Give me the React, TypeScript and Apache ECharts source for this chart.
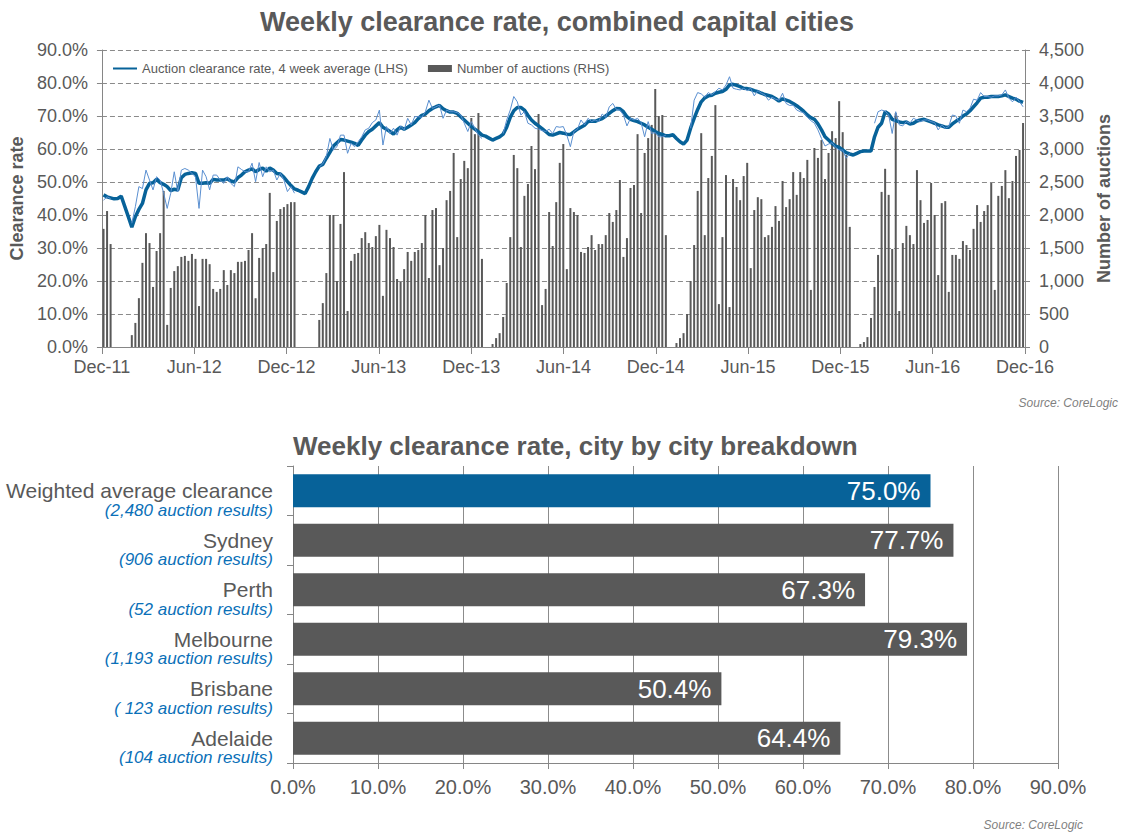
import React, { useEffect, useRef } from "react";
import * as echarts from "echarts";

// ---------- Top chart data (weekly, 261 weeks from Dec-11 to Dec-16) ----------
const xTickLabels = ["Dec-11", "Jun-12", "Dec-12", "Jun-13", "Dec-13", "Jun-14", "Dec-14", "Jun-15", "Dec-15", "Jun-16", "Dec-16"];
const WEEKS_TOTAL = 261;

// Number of auctions (RHS); null = no auctions reported (holiday break)
const auctions: (number | null)[] = [
  1790, 2060, 1560, null, null, null, null, null, 180, 365,
  740, 1275, 1725, 1575, 910, 1455, 1725, 2365, 335, 895,
  1150, 1225, 1365, 1380, 1305, 1410, 1335, 620, 1335, 1335,
  1255, 880, 835, 880, 1165, 940, 1165, 1120, 1290, 1290,
  1305, 1470, 1725, 740, 1350, 1500, 1560, 2335, 1135, 1910,
  2090, 2120, 2165, 2195, 2195, null, null, null, null, null,
  null, 410, 665, 1120, 2000, 2000, 1000, 1865, 2650, 545,
  1305, 1410, 1425, 1650, 1740, 1575, 1515, 1680, 1850, 775,
  1775, 1650, 1515, 1030, 985, 1180, 1440, 1305, 1440, 1470,
  1575, 2000, 1045, 2075, 2105, 1240, 1500, 2225, 2365, 2940,
  1665, 2545, 2820, 2710, 3470, 3225, 3545, 1335, null, null,
  45, 135, 210, 455, 970, 1665, 2910, 2710, 1515, 2290,
  2470, 3045, 2695, 3530, 635, 880, 2045, 1530, 2195, 2790,
  3075, 1180, 2105, 2045, 2000, 1440, 1425, 1515, 1695, 1470,
  1560, 1560, 1695, 2030, 1895, 2075, 2530, 1365, 1650, 2410,
  2455, 3225, 2030, 2940, 3165, 3365, 3910, 3500, 3515, 1695,
  null, null, 60, 135, 210, 500, 1000, 1545, 2365, 3240,
  1695, 2560, 2895, 3665, 650, 1665, 2605, 605, 2545, 2425,
  2225, 2590, 2790, 1195, 2075, 2270, 2240, 1665, 1695, 1820,
  2135, 1910, 2515, 2120, 2240, 2650, 2305, 2650, 2560, 2835,
  865, 3015, 2865, 3135, 2545, 2940, 3270, 3165, 3725, 3255,
  2910, 1820, null, null, 45, 75, 150, 440, 910, 1395,
  2350, 2700, 2305, 1485, 3545, 545, 1575, 1835, 1695, 1560,
  2680, 2225, 1880, 1925, 2485, 2000, 1090, 2180, 2210, 835,
  1395, 1395, 1335, 1605, 1545, 1470, 1790, 2150, 1895, 2060,
  2150, 2485, 865, 2290, 2440, 2680, 2255, 2515, 2895, 2985,
  3395,
];

// Auction clearance rate, 4 week average (LHS, %)
const clearance4wk: number[] = [
  46.1, 45.5, 45.2, 44.9, 45.0, 45.7, 42.6, 39.5, 36.3, 39.5,
  41.7, 43.5, 47.6, 49.6, 49.8, 50.8, 49.8, 49.3, 48.6, 47.4,
  47.8, 47.6, 51.3, 52.3, 52.6, 52.8, 52.6, 49.6, 49.6, 49.8,
  49.6, 50.8, 50.6, 50.6, 50.6, 51.0, 50.3, 50.0, 51.3, 52.1,
  53.1, 53.6, 54.0, 53.1, 53.8, 54.2, 53.3, 54.2, 53.6, 52.6,
  52.4, 51.4, 50.1, 48.9, 47.9, 47.5, 47.0, 46.5, 48.6, 51.1,
  53.1, 54.8, 55.3, 57.2, 59.0, 60.9, 61.9, 62.9, 62.7, 62.4,
  62.1, 61.7, 61.1, 62.7, 64.2, 65.3, 66.0, 67.0, 68.0, 66.6,
  66.0, 65.3, 64.5, 65.8, 66.6, 66.0, 66.6, 67.3, 68.0, 69.2,
  70.2, 70.6, 71.6, 72.3, 72.8, 73.2, 72.2, 71.6, 71.2, 71.2,
  70.8, 69.8, 68.8, 67.8, 66.8, 66.0, 65.2, 64.2, 63.9, 63.3,
  62.7, 63.2, 63.7, 64.5, 66.6, 69.6, 71.6, 72.6, 72.6, 71.8,
  70.2, 68.8, 67.8, 67.0, 66.2, 65.3, 64.4, 64.2, 64.6, 65.0,
  64.8, 64.5, 64.4, 65.2, 66.0, 66.6, 67.2, 68.3, 68.5, 68.4,
  68.8, 69.2, 70.0, 70.8, 71.6, 72.3, 72.2, 71.3, 69.8, 69.0,
  68.6, 68.3, 67.8, 67.3, 66.6, 66.0, 65.3, 64.7, 64.4, 64.0,
  64.0, 64.3, 63.2, 62.2, 61.5, 62.7, 66.3, 69.3, 72.0, 74.3,
  75.5, 76.1, 76.3, 76.9, 77.2, 77.4, 78.1, 79.4, 79.6, 79.3,
  78.9, 78.4, 78.3, 78.1, 77.7, 77.4, 76.9, 76.5, 76.2, 75.9,
  75.3, 74.5, 75.2, 74.8, 74.4, 73.8, 73.1, 72.3, 71.4, 70.3,
  69.5, 69.0, 67.6, 65.8, 63.7, 62.7, 61.7, 60.9, 60.5, 59.7,
  58.9, 58.5, 58.2, 58.7, 59.2, 59.4, 59.4, 59.4, 63.7, 66.6,
  67.8, 71.3, 70.6, 69.0, 68.6, 68.2, 68.0, 68.2, 67.6, 67.8,
  68.5, 68.8, 69.0, 68.6, 68.2, 67.8, 67.3, 67.0, 66.6, 66.6,
  67.6, 68.4, 69.0, 70.0, 70.6, 71.6, 72.8, 74.0, 75.4, 75.7,
  75.7, 75.9, 75.9, 75.9, 76.1, 76.4, 75.9, 75.4, 75.1, 74.5,
  74.1,
];

// Weekly clearance rate (thin line, %); null = not reported
const clearanceWeekly: (number | null)[] = [
  44.5, 45.5, 45.0, null, null, null, null, null, 37.5, 42.5,
  48.6, 48.0, 53.6, 50.6, 47.6, 51.6, 50.6, 46.6, 42.0, 46.6,
  53.1, 47.0, 53.6, 54.1, 53.6, 52.6, 51.6, 42.0, 53.6, 51.6,
  47.6, 52.1, 52.1, 50.6, 49.6, 51.6, 49.6, 48.6, 54.6, 53.8,
  53.1, 53.1, 55.7, 50.1, 55.9, 51.6, 54.6, 53.1, 53.6, 50.6,
  52.6, 50.6, 47.1, 48.6, 46.6, null, null, null, null, null,
  null, 54.6, 55.5, 57.7, 63.2, 59.7, 60.7, 64.2, 64.2, 58.7,
  61.7, 60.7, 62.2, 63.7, 65.8, 66.3, 68.0, 68.8, 71.8, 61.2,
  66.8, 64.7, 66.3, 64.2, 67.0, 65.8, 69.3, 67.3, 69.8, 69.8,
  69.6, 71.3, 74.8, 72.3, 72.8, 73.3, 69.3, 71.8, 71.3, 71.3,
  71.0, 70.3, 67.8, 65.3, 68.3, 66.3, 64.2, 63.2, null, null,
  null, null, null, 64.7, 68.8, 71.8, 75.9, 74.3, 70.3, 71.3,
  67.8, 67.3, 66.3, 66.0, 65.6, 65.3, 66.0, 64.7, 66.8, 66.6,
  66.8, 64.2, 60.7, 65.3, 66.0, 68.8, 67.3, 69.3, 68.3, 68.8,
  68.3, 70.6, 69.6, 72.8, 73.8, 72.0, 71.8, 70.3, 67.0, 69.3,
  68.8, 69.3, 68.0, 63.7, 68.3, 64.7, 65.0, 63.7, 63.7, 64.2,
  null, null, null, null, null, null, 66.3, 74.8, 77.1, 76.7,
  75.7, 77.1, 76.4, 77.4, 78.4, 77.9, 79.4, 81.9, 78.4, 78.1,
  77.9, 78.4, 77.7, 78.4, 76.1, 77.7, 76.9, 76.4, 74.8, 75.7,
  75.1, 74.8, 76.9, 73.8, 73.2, 73.3, 71.8, 71.3, 71.0, 69.6,
  68.6, 67.8, 65.8, 63.2, 60.9, 61.5, 61.9, 60.5, 59.7, 59.7,
  57.2, 58.7, null, null, null, null, null, null, 67.8, 71.3,
  71.8, 71.5, 70.3, 64.7, 71.3, 67.3, 67.0, 68.3, 67.8, 69.3,
  68.8, 68.3, 68.8, 68.8, 68.3, 68.0, 65.8, 67.3, 66.3, 66.8,
  70.3, 70.0, 67.8, 71.8, 71.3, 72.3, 75.1, 74.8, 77.1, 75.9,
  75.9, 75.7, 76.1, 76.1, 76.4, 77.9, 75.4, 74.3, 75.7, 74.3,
  72.8,
];

// ---------- Bottom chart data ----------
const cities = ["Weighted average clearance", "Sydney", "Perth", "Melbourne", "Brisbane", "Adelaide"];
const cityResults = ["(2,480 auction results)", "(906 auction results)", "(52 auction results)", "(1,193 auction results)", "( 123 auction results)", "(104 auction results)"];
const cityRates = [75.0, 77.7, 67.3, 79.3, 50.4, 64.4];

const LINE_NAME = "Auction clearance rate, 4 week average (LHS)";
const BAR_NAME = "Number of auctions (RHS)";
const THIN_NAME = "Weekly clearance rate";

const TXT = "#595959";
const AX = "#868686";
const GRAY_BAR = "#595959";
const BLUE = "#076299";
const THIN_BLUE = "#5a8fd0";
const FONT = 'Arial, "Liberation Sans", sans-serif';

const xOf = (i: number) => ((i + 0.45) * (xTickLabels.length - 1)) / WEEKS_TOTAL;

export default function App() {
  const ref = useRef<HTMLDivElement>(null);

  useEffect(() => {
    document.body.style.margin = "0";
    if (!ref.current) return;
    const chart = echarts.init(ref.current, undefined, { renderer: "svg" });

    const barData = auctions
      .map((v, i) => (v == null ? null : [xOf(i), v]))
      .filter((d) => d !== null);
    const avgData = clearance4wk.map((v, i) => [xOf(i), v]);
    const weeklyData = clearanceWeekly.map((v, i) => [xOf(i), v == null ? "-" : v]);

    const option: any = {
      animation: false,
      textStyle: { fontFamily: FONT },
      legend: {
        left: 107,
        top: 57,
        itemGap: 20,
        itemWidth: 24,
        itemHeight: 7,
        textStyle: { fontSize: 13, color: TXT, fontFamily: FONT },
        data: [
          { name: LINE_NAME, itemStyle: { opacity: 0 } },
          { name: BAR_NAME, icon: "rect" },
        ],
      },
      grid: [
        { left: 98, top: 50, width: 927, height: 297 },
        { left: 293, top: 466, width: 765, height: 297 },
      ],
      xAxis: [
        {
          type: "value",
          gridIndex: 0,
          min: 0,
          max: 10,
          interval: 1,
          axisLine: { show: true, onZero: false, lineStyle: { color: AX } },
          axisTick: { show: true, length: 7, lineStyle: { color: AX } },
          splitLine: { show: false },
          axisLabel: {
            color: TXT,
            fontSize: 18,
            margin: 11,
            showMinLabel: true,
            showMaxLabel: true,
            formatter: (v: number) => xTickLabels[Math.round(v)] ?? "",
          },
        },
        {
          type: "value",
          gridIndex: 1,
          min: 0,
          max: 90,
          interval: 10,
          axisLine: { show: true, onZero: false, lineStyle: { color: AX } },
          axisTick: { show: true, length: 6, lineStyle: { color: AX } },
          splitLine: { show: true, lineStyle: { color: "#8c8c8c", type: "solid", width: 1 } },
          axisLabel: {
            color: TXT,
            fontSize: 20,
            margin: 14,
            showMinLabel: true,
            showMaxLabel: true,
            formatter: (v: number) => v.toFixed(1) + "%",
          },
        },
      ],
      yAxis: [
        {
          type: "value",
          gridIndex: 0,
          position: "left",
          min: 0,
          max: 90,
          interval: 10,
          name: "Clearance rate",
          nameLocation: "middle",
          nameRotate: 90,
          nameGap: 71,
          nameTextStyle: { fontSize: 18, fontWeight: "bold", color: TXT, fontFamily: FONT },
          axisLine: { show: true, onZero: false, lineStyle: { color: AX } },
          axisTick: { show: true, length: 5, lineStyle: { color: AX } },
          splitLine: { show: true, lineStyle: { color: "#8a8a8a", type: [5, 3], width: 1 } },
          axisLabel: {
            color: TXT,
            fontSize: 18,
            margin: 14,
            formatter: (v: number) => v.toFixed(1) + "%",
          },
        },
        {
          type: "value",
          gridIndex: 0,
          position: "right",
          min: 0,
          max: 4500,
          interval: 500,
          name: "Number of auctions",
          nameLocation: "middle",
          nameRotate: 90,
          nameGap: 67,
          nameTextStyle: { fontSize: 18, fontWeight: "bold", color: TXT, fontFamily: FONT },
          axisLine: { show: true, onZero: false, lineStyle: { color: AX } },
          axisTick: { show: true, length: 5, lineStyle: { color: AX } },
          splitLine: { show: false },
          axisLabel: {
            color: TXT,
            fontSize: 18,
            margin: 14,
            formatter: (v: number) => v.toLocaleString("en-US"),
          },
        },
        {
          type: "category",
          gridIndex: 1,
          inverse: true,
          data: cities,
          axisLine: { show: true, onZero: false, lineStyle: { color: AX } },
          axisTick: { show: true, length: 6, lineStyle: { color: AX } },
          splitLine: { show: false },
          axisLabel: {
            margin: 20,
            padding: [17, 0, 0, 0],
            formatter: (v: string, idx: number) => `{a|${v}}\n{b|${cityResults[idx]}}`,
            rich: {
              a: { fontSize: 21, lineHeight: 22, color: TXT, align: "right", fontFamily: FONT },
              b: { fontSize: 17, lineHeight: 17, color: "#0a70b8", fontStyle: "italic", align: "right", fontFamily: FONT },
            },
          },
        },
      ],
      series: [
        {
          type: "bar",
          name: BAR_NAME,
          xAxisIndex: 0,
          yAxisIndex: 1,
          data: barData,
          barWidth: 2,
          itemStyle: { color: GRAY_BAR },
          z: 2,
        },
        {
          type: "line",
          name: LINE_NAME,
          xAxisIndex: 0,
          yAxisIndex: 0,
          data: avgData,
          symbol: "none",
          lineStyle: { width: 3.5, color: BLUE },
          itemStyle: { color: BLUE },
          z: 3,
        },
        {
          type: "line",
          name: THIN_NAME,
          xAxisIndex: 0,
          yAxisIndex: 0,
          data: weeklyData,
          symbol: "none",
          connectNulls: false,
          lineStyle: { width: 1, color: THIN_BLUE },
          itemStyle: { color: THIN_BLUE },
          z: 4,
        },
        {
          type: "bar",
          name: "City clearance rate",
          xAxisIndex: 1,
          yAxisIndex: 2,
          barWidth: 33,
          data: cityRates.map((v, i) => ({ value: v, itemStyle: { color: i === 0 ? BLUE : GRAY_BAR } })),
          label: {
            show: true,
            position: "insideRight",
            distance: 10,
            color: "#ffffff",
            fontSize: 26,
            fontFamily: FONT,
            formatter: (p: any) => Number(p.value).toFixed(1) + "%",
          },
        },
      ],
      graphic: [
        {
          type: "text",
          x: 557,
          y: 22,
          style: {
            text: "Weekly clearance rate, combined capital cities",
            font: `bold 27px ${FONT}`,
            fill: TXT,
            align: "center",
            verticalAlign: "middle",
            textAlign: "center",
            textVerticalAlign: "middle",
          },
        },
        {
          type: "text",
          x: 293,
          y: 446,
          style: {
            text: "Weekly clearance rate, city by city breakdown",
            font: `bold 26px ${FONT}`,
            fill: TXT,
            align: "left",
            verticalAlign: "middle",
            textAlign: "left",
            textVerticalAlign: "middle",
          },
        },
        {
          type: "text",
          x: 1118,
          y: 403,
          style: {
            text: "Source: CoreLogic",
            font: `italic 12px ${FONT}`,
            fill: "#7f7f7f",
            align: "right",
            verticalAlign: "middle",
            textAlign: "right",
            textVerticalAlign: "middle",
          },
        },
        {
          type: "text",
          x: 1083,
          y: 825,
          style: {
            text: "Source: CoreLogic",
            font: `italic 12px ${FONT}`,
            fill: "#7f7f7f",
            align: "right",
            verticalAlign: "middle",
            textAlign: "right",
            textVerticalAlign: "middle",
          },
        },
      ],
    };

    chart.setOption(option);
    return () => {
      chart.dispose();
    };
  }, []);

  return <div ref={ref} style={{ width: 1136, height: 834 }} />;
}
